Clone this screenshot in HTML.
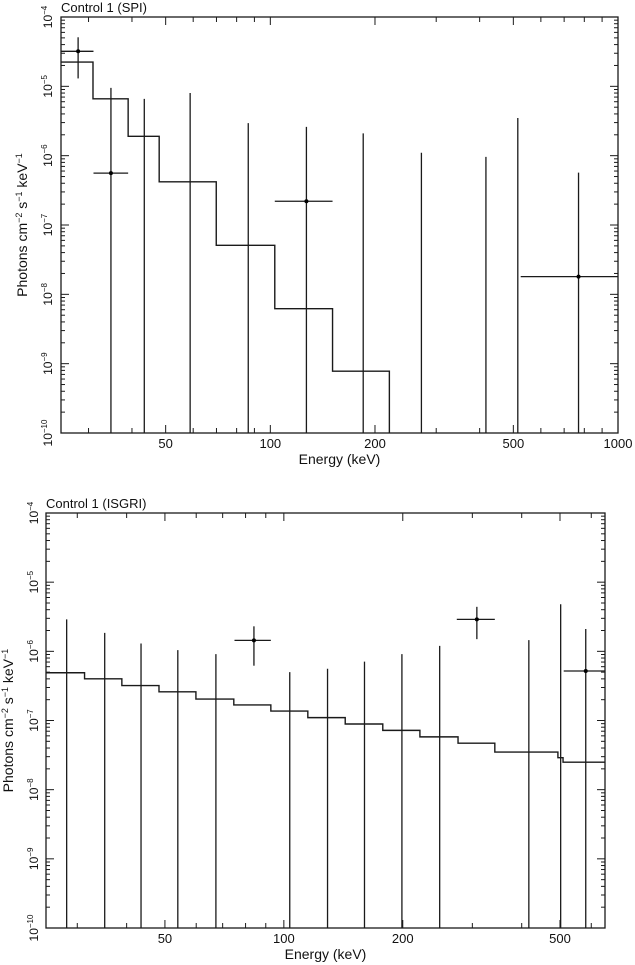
<!DOCTYPE html>
<html><head><meta charset="utf-8"><style>
html,body{margin:0;padding:0;background:#fff;}
svg{display:block;font-family:"Liberation Sans",sans-serif;}
</style></head><body>
<svg id="chart" width="635" height="965" viewBox="0 0 635 965" xmlns="http://www.w3.org/2000/svg"></svg>
<script>
// ---- SPI panel data ----
const spiModelEdges = [25, 30.9, 39, 47.9, 69.9, 103, 151, 220];
const spiModelValues = [2.24e-5, 6.6e-6, 1.9e-6, 4.2e-7, 5.1e-8, 6.2e-9, 7.8e-10];
const spiPointE = [28.0, 34.8, 127, 770];
const spiPointY = [3.2e-5, 5.6e-7, 2.2e-7, 1.8e-8];
const spiPointElo = [25, 31, 103, 525];
const spiPointEhi = [31, 39, 151, 1000];
const spiPointYlo = [1.3e-5, 1e-12, 1e-12, 1e-12];
const spiPointYhi = [5.1e-5, 9.5e-6, 2.6e-6, 5.7e-7];
const spiLimitE = [43.4, 58.8, 86.4, 185, 272, 417, 515];
const spiLimitY = [6.6e-6, 8.0e-6, 2.95e-6, 2.1e-6, 1.1e-6, 9.6e-7, 3.5e-6];
const spiXTicks = [50, 100, 200, 500, 1000];

// ---- ISGRI panel data ----
const isgModelEdges = [25, 31.3, 38.9, 48.3, 59.9, 74.7, 92.7, 115, 143, 178, 221, 276, 342, 494, 509, 650];
const isgModelValues = [4.9e-7, 4.0e-7, 3.2e-7, 2.6e-7, 2.04e-7, 1.68e-7, 1.37e-7, 1.1e-7, 8.9e-8, 7.2e-8, 5.8e-8, 4.7e-8, 3.5e-8, 2.9e-8, 2.5e-8];
const isgPointE = [84, 308, 581];
const isgPointY = [1.44e-6, 2.9e-6, 5.2e-7];
const isgPointElo = [75, 274, 511];
const isgPointEhi = [92.7, 342, 650];
const isgPointYlo = [6.2e-7, 1.5e-6, 1e-12];
const isgPointYhi = [2.3e-6, 4.4e-6, 2.1e-6];
const isgLimitE = [28.2, 35.2, 43.5, 53.9, 67.3, 103.5, 129, 160, 199, 248, 417, 502];
const isgLimitY = [2.9e-6, 1.85e-6, 1.3e-6, 1.04e-6, 9.1e-7, 5.0e-7, 5.6e-7, 7.1e-7, 9.1e-7, 1.2e-6, 1.45e-6, 4.8e-6];
const isgXTicks = [50, 100, 200, 500];

const yTickExps = [-4, -5, -6, -7, -8, -9, -10];

const NS = "http://www.w3.org/2000/svg";
const svg = document.getElementById('chart');
function mk(tag, attrs, parent) {
  const e = document.createElementNS(NS, tag);
  for (const k in attrs) e.setAttribute(k, attrs[k]);
  (parent || svg).appendChild(e);
  return e;
}
const STK = "#1a1a1a";

function panel(cfg) {
  const g = mk('g', {});
  
  
  const {L, R, T, B, xmin, xmax} = cfg;
  const xs = e => L + (Math.log10(e) - Math.log10(xmin)) / (Math.log10(xmax) - Math.log10(xmin)) * (R - L);
  const ys = v => { const lv = Math.max(-10, Math.min(-4, Math.log10(v))); return T + (-4 - lv) / 6 * (B - T); };
  const fr = mk('rect', {x: L, y: T, width: R - L, height: B - T, fill: 'none', stroke: STK, 'stroke-width': 1.3}, g);
  
  
  for (let d = 10; d <= 1000; d *= 10) {
    for (let m = 1; m <= 9; m++) {
      const e = d * m;
      if (e < xmin || e > xmax) continue;
      const major = cfg.xTicks.indexOf(e) >= 0;
      const len = major ? 8 : 5;
      const x = xs(e);
      mk('line', {x1: x, x2: x, y1: B, y2: B - len, stroke: STK, 'stroke-width': 1}, g);
      mk('line', {x1: x, x2: x, y1: T, y2: T + len, stroke: STK, 'stroke-width': 1}, g);
    }
  }
  cfg.xTicks.forEach(e => {
    const t = mk('text', {x: xs(e), y: B + 15, 'font-size': 13, 'text-anchor': 'middle', fill: '#111'}, g);
    t.textContent = e;
    
    
  });
  for (let p = -10; p <= -4; p++) {
    const y0 = ys(Math.pow(10, p));
    mk('line', {x1: L, x2: L + 8, y1: y0, y2: y0, stroke: STK, 'stroke-width': 1}, g);
    mk('line', {x1: R, x2: R - 8, y1: y0, y2: y0, stroke: STK, 'stroke-width': 1}, g);
    if (p < -4) for (let m = 2; m <= 9; m++) {
      const y = ys(m * Math.pow(10, p));
      mk('line', {x1: L, x2: L + 4, y1: y, y2: y, stroke: STK, 'stroke-width': 1}, g);
      mk('line', {x1: R, x2: R - 4, y1: y, y2: y, stroke: STK, 'stroke-width': 1}, g);
    }
  }
  yTickExps.forEach(p => {
    const y = ys(Math.pow(10, p));
    const t = mk('text', {x: 0, y: 0, 'font-size': 12, 'text-anchor': 'middle', fill: '#111',
      transform: `translate(${cfg.yLabX},${y}) rotate(-90)`}, g);
    
    
    const a = mk('tspan', {}, t); a.textContent = '10';
    const b = mk('tspan', {dy: -5, 'font-size': 8}, t); b.textContent = '\u2212' + (-p);
  });
  const tt = mk('text', {x: L, y: T - 5, 'font-size': 13, fill: '#111'}, g);
  tt.textContent = cfg.title;
  
  
  const xt = mk('text', {x: (L + R) / 2, y: B + 31, 'font-size': 14, 'text-anchor': 'middle', fill: '#111'}, g);
  xt.textContent = 'Energy (keV)';
  
  
  const yt = mk('text', {x: 0, y: 0, 'font-size': 14, 'text-anchor': 'middle', fill: '#111',
    transform: `translate(${cfg.yTitleX},${(T + B) / 2}) rotate(-90)`}, g);
  
  
  [['Photons cm', 0, 14], ['\u22122', -5, 9], [' s', 5, 14], ['\u22121', -5, 9], [' keV', 5, 14], ['\u22121', -5, 9]].forEach(([s, dy, fs]) => {
    const sp = mk('tspan', {dy: dy, 'font-size': fs}, yt); sp.textContent = s;
  });
  let d = '';
  cfg.modelValues.forEach((v, i) => {
    const x1 = xs(cfg.modelEdges[i]), x2 = xs(cfg.modelEdges[i + 1]), y = ys(v);
    d += (i === 0 ? `M${x1},${y}` : `L${x1},${y}`) + `L${x2},${y}`;
  });
  if (cfg.modelDrop) d += `L${xs(cfg.modelEdges[cfg.modelEdges.length - 1])},${B}`;
  const mp = mk('path', {d: d, fill: 'none', stroke: STK, 'stroke-width': 1.4}, g);
  
  
  cfg.limitE.forEach((e, i) => {
    const l = mk('line', {x1: xs(e), x2: xs(e), y1: B, y2: ys(cfg.limitY[i]), stroke: STK, 'stroke-width': 1.3}, g);
    
    
  });
  cfg.pointE.forEach((e, i) => {
    const pg = mk('g', {}, g);
    
    
    const x = xs(e), y = ys(cfg.pointY[i]);
    mk('line', {x1: xs(cfg.pointElo[i]), x2: Math.min(R, xs(cfg.pointEhi[i])), y1: y, y2: y, stroke: STK, 'stroke-width': 1.3}, pg);
    mk('line', {x1: x, x2: x, y1: ys(cfg.pointYlo[i]), y2: ys(cfg.pointYhi[i]), stroke: STK, 'stroke-width': 1.3}, pg);
    mk('circle', {cx: x, cy: y, r: 2, fill: '#000'}, pg);
  });
}

panel({name: 'spi-panel', title: 'Control 1 (SPI)', L: 61, R: 618, T: 17, B: 433, xmin: 25, xmax: 1000,
  xTicks: spiXTicks, yLabX: 52, yTitleX: 27,
  modelEdges: spiModelEdges, modelValues: spiModelValues, modelDrop: true,
  pointE: spiPointE, pointY: spiPointY, pointElo: spiPointElo, pointEhi: spiPointEhi, pointYlo: spiPointYlo, pointYhi: spiPointYhi,
  limitE: spiLimitE, limitY: spiLimitY});

panel({name: 'isgri-panel', title: 'Control 1 (ISGRI)', L: 46, R: 605, T: 513, B: 928, xmin: 25, xmax: 650,
  xTicks: isgXTicks, yLabX: 38, yTitleX: 13,
  modelEdges: isgModelEdges, modelValues: isgModelValues, modelDrop: false,
  pointE: isgPointE, pointY: isgPointY, pointElo: isgPointElo, pointEhi: isgPointEhi, pointYlo: isgPointYlo, pointYhi: isgPointYhi,
  limitE: isgLimitE, limitY: isgLimitY});
</script>
</body></html>
